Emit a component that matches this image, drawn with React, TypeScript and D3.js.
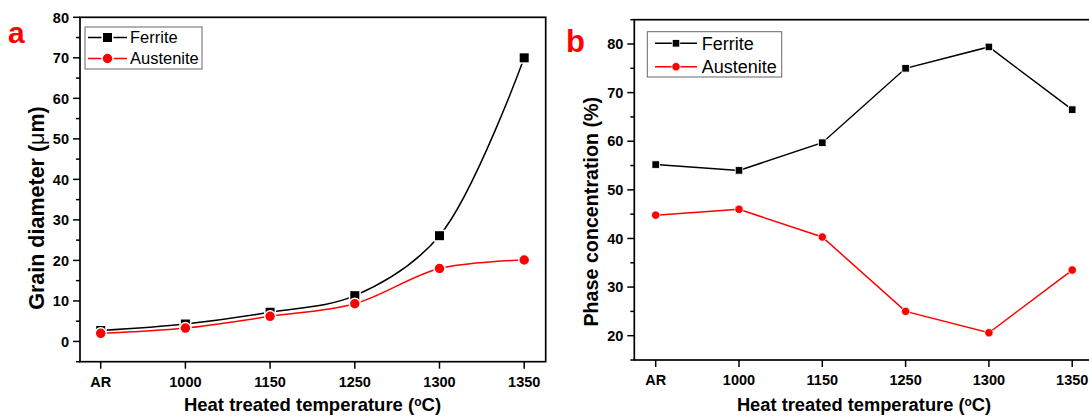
import React from "react";
import * as d3 from "d3";

const categories = ["AR", "1000", "1150", "1250", "1300", "1350"];
const grainFerrite = [2.7, 4.3, 7.2, 11.3, 26.1, 70];
const grainAustenite = [2.0, 3.3, 6.2, 9.3, 18, 20.1];
const phaseFerrite = [55.2, 54, 59.7, 75, 79.4, 66.5];
const phaseAustenite = [44.8, 46, 40.3, 25, 20.6, 33.5];
const ticksA = [0, 10, 20, 30, 40, 50, 60, 70, 80];
const minorA = [-5, 5, 15, 25, 35, 45, 55, 65, 75];
const ticksB = [20, 30, 40, 50, 60, 70, 80];
const minorB = [15, 25, 35, 45, 55, 65, 75, 85];

const FONT = "Arial, 'Liberation Sans', sans-serif";

type PanelProps = {
  left: number; top: number; right: number; bottom: number;
  firstX: number; stepX: number;
  yDomain: [number, number];
  ticks: number[]; minor: number[];
  s1: number[]; s2: number[];
  smooth: boolean;
  ytitle: React.ReactNode; ytitleX: number; ytitleY: number; ytitleFs: number;
  xtitleX: number; xtitleFs: number;
  letter: string; letterX: number; letterY: number; letterSize: number;
  legend: { x: number; y: number; w: number; h: number; r1: number; r2: number; lx1: number; lx2: number; tx: number; fs: number };
  sq: number; cr: number; markerStroke: number;
};

function Panel(p: PanelProps) {
  const x = d3.scaleLinear().domain([0, 1]).range([p.firstX, p.firstX + p.stepX]);
  const y = d3.scaleLinear().domain(p.yDomain).range([p.bottom, p.top]);
  const line = d3.line<number>()
    .x((_, i) => x(i))
    .y((d) => y(d))
    .curve(p.smooth ? d3.curveCatmullRom.alpha(0.5) : d3.curveLinear);
  return (
    <g>
      <rect x={p.left} y={p.top} width={p.right - p.left} height={p.bottom - p.top} fill="none" stroke="#000" strokeWidth={1.7} />
      {p.ticks.map((t) => (
        <g key={"t" + t}>
          <line x1={p.left - 7} x2={p.left} y1={y(t)} y2={y(t)} stroke="#000" strokeWidth={1.5} />
          <text x={p.left - 11} y={y(t)} dy="0.36em" textAnchor="end" fontFamily={FONT} fontWeight="bold" fontSize={14.5}>{t}</text>
        </g>
      ))}
      {p.minor.filter((t) => t >= p.yDomain[0] && t <= p.yDomain[1]).map((t) => (
        <line key={"m" + t} x1={p.left - 4} x2={p.left} y1={y(t)} y2={y(t)} stroke="#000" strokeWidth={1.5} />
      ))}
      {categories.map((c, i) => (
        <g key={c}>
          <line x1={x(i)} x2={x(i)} y1={p.bottom} y2={p.bottom + 7} stroke="#000" strokeWidth={1.5} />
          <text x={x(i)} y={p.bottom + 25} textAnchor="middle" fontFamily={FONT} fontWeight="bold" fontSize={14.5}>{c}</text>
        </g>
      ))}
      <path d={line(p.s1) || ""} fill="none" stroke="#000" strokeWidth={1.5} />
      <path d={line(p.s2) || ""} fill="none" stroke="#ff0000" strokeWidth={1.5} />
      {p.s1.map((v, i) => (
        <rect key={"a" + i} x={x(i) - p.sq / 2} y={y(v) - p.sq / 2} width={p.sq} height={p.sq} fill="#000" stroke="#fff" strokeWidth={p.markerStroke} />
      ))}
      {p.s2.map((v, i) => (
        <circle key={"b" + i} cx={x(i)} cy={y(v)} r={p.cr} fill="#ff0000" stroke="#fff" strokeWidth={p.markerStroke} />
      ))}
      <text x={p.xtitleX} y={411} textAnchor="middle" fontFamily={FONT} fontWeight="bold" fontSize={p.xtitleFs}>
        Heat treated temperature (<tspan baselineShift="40%" fontSize={p.xtitleFs * 0.65}>o</tspan>C)
      </text>
      <text transform={`translate(${p.ytitleX},${p.ytitleY}) rotate(-90)`} textAnchor="middle" fontFamily={FONT} fontWeight="bold" fontSize={p.ytitleFs}>
        {p.ytitle}
      </text>
      <text x={p.letterX} y={p.letterY} fontFamily={FONT} fontWeight="bold" fontSize={p.letterSize} fill="#ff0000">{p.letter}</text>
      <g>
        <rect x={p.legend.x} y={p.legend.y} width={p.legend.w} height={p.legend.h} fill="#fff" stroke="#666" strokeWidth={1} />
        <line x1={p.legend.lx1} x2={p.legend.lx2} y1={p.legend.r1} y2={p.legend.r1} stroke="#000" strokeWidth={1.5} />
        <rect x={(p.legend.lx1 + p.legend.lx2) / 2 - p.sq / 2} y={p.legend.r1 - p.sq / 2} width={p.sq} height={p.sq} fill="#000" stroke="#fff" strokeWidth={p.markerStroke} />
        <text x={p.legend.tx} y={p.legend.r1} dy="0.36em" fontFamily={FONT} fontSize={p.legend.fs}>Ferrite</text>
        <line x1={p.legend.lx1} x2={p.legend.lx2} y1={p.legend.r2} y2={p.legend.r2} stroke="#ff0000" strokeWidth={1.5} />
        <circle cx={(p.legend.lx1 + p.legend.lx2) / 2} cy={p.legend.r2} r={p.cr} fill="#ff0000" stroke="#fff" strokeWidth={p.markerStroke} />
        <text x={p.legend.tx} y={p.legend.r2} dy="0.36em" fontFamily={FONT} fontSize={p.legend.fs}>Austenite</text>
      </g>
    </g>
  );
}

export default function App() {
  return (
    <svg width={1089} height={416} style={{ position: "absolute", left: 0, top: 0, background: "#fff" }}>
      <Panel
        left={80} top={17.3} right={545.7} bottom={361.7}
        firstX={100.7} stepX={84.7}
        yDomain={[-5, 80]} ticks={ticksA} minor={minorA}
        s1={grainFerrite} s2={grainAustenite} smooth={true}
        ytitle={<>Grain diameter (<tspan fontWeight="normal">μ</tspan>m)</>}
        ytitleX={44} ytitleY={208} ytitleFs={21.5}
        xtitleX={312.5} xtitleFs={18.5}
        letter="a" letterX={8} letterY={43.3} letterSize={30}
        legend={{ x: 85, y: 27, w: 117, h: 42, r1: 37.5, r2: 58.5, lx1: 88, lx2: 127, tx: 130, fs: 16.5 }}
        sq={10.5} cr={5.5} markerStroke={1.5}
      />
      <Panel
        left={634.3} top={19.7} right={1100} bottom={360}
        firstX={655.7} stepX={83.3}
        yDomain={[15, 85]} ticks={ticksB} minor={minorB}
        s1={phaseFerrite} s2={phaseAustenite} smooth={false}
        ytitle={<>Phase concentration (%)</>}
        ytitleX={598} ytitleY={211.7} ytitleFs={19.7}
        xtitleX={864} xtitleFs={18.3}
        letter="b" letterX={566} letterY={51.7} letterSize={31}
        legend={{ x: 647.3, y: 31.7, w: 134.4, h: 45.3, r1: 43.3, r2: 66.7, lx1: 655, lx2: 697, tx: 701.7, fs: 18 }}
        sq={7.5} cr={4.2} markerStroke={0.8}
      />
    </svg>
  );
}
